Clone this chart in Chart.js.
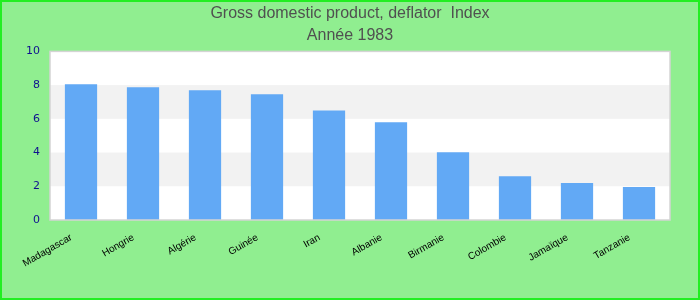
<!DOCTYPE html>
<html>
<head>
<meta charset="utf-8">
<script src="https://cdn.jsdelivr.net/npm/chart.js@4/dist/chart.umd.min.js"></script>
<style>
html,body{margin:0;padding:0;background:#90ee90;}
#wrap{width:700px;height:300px;position:relative;}
</style>
</head>
<body>
<div id="wrap"><canvas id="c" width="700" height="300"></canvas></div>
<script>
const categories = ["Madagascar","Hongrie","Algérie","Guinée","Iran","Albanie","Birmanie","Colombie","Jamaïque","Tanzanie"];
const values = [8.05, 7.87, 7.69, 7.46, 6.5, 5.8, 4.02, 2.6, 2.19, 1.95];
const yTicks = [0, 2, 4, 6, 8, 10];
const titleText = "Gross domestic product, deflator  Index";
const subtitleText = "Année 1983";

const bgPlugin = {
  id: 'bg',
  beforeDraw(chart) {
    const ctx = chart.ctx;
    ctx.save();
    ctx.fillStyle = '#90ee90';
    ctx.fillRect(0, 0, chart.width, chart.height);
    const a = chart.chartArea;
    const y = chart.scales.y;
    ctx.fillStyle = '#ffffff';
    ctx.fillRect(a.left, a.top, a.right - a.left, a.bottom - a.top);
    ctx.fillStyle = '#f2f2f2';
    for (let i = 0; i < yTicks.length - 1; i++) {
      if (i % 2 === 1) {
        const y0 = y.getPixelForValue(yTicks[i]);
        const y1 = y.getPixelForValue(yTicks[i + 1]);
        ctx.fillRect(a.left, y1, a.right - a.left, y0 - y1);
      }
    }
    ctx.restore();
  },
  afterDraw(chart) {
    const ctx = chart.ctx;
    const a = chart.chartArea;
    ctx.save();
    ctx.strokeStyle = '#d4d4d4';
    ctx.lineWidth = 1.5;
    ctx.strokeRect(a.left, a.top, a.right - a.left, a.bottom - a.top);
    ctx.strokeStyle = '#22ee22';
    ctx.lineWidth = 2;
    ctx.strokeRect(1, 1, chart.width - 2, chart.height - 2);
    ctx.restore();
  }
};

new Chart(document.getElementById('c'), {
  type: 'bar',
  data: {
    labels: categories,
    datasets: [{
      data: values,
      backgroundColor: '#62a9f5',
      borderWidth: 0,
      barPercentage: 0.52,
      categoryPercentage: 1.0
    }]
  },
  options: {
    responsive: false,
    animation: false,
    devicePixelRatio: 1,
    layout: { padding: 0 },
    plugins: {
      legend: { display: false },
      tooltip: { enabled: false },
      title: {
        display: true,
        text: titleText,
        color: '#505050',
        font: { family: 'Liberation Sans, Arial, sans-serif', size: 16, weight: 'normal', lineHeight: 1.2 },
        padding: { top: 4, bottom: 3 }
      },
      subtitle: {
        display: true,
        text: subtitleText,
        color: '#505050',
        font: { family: 'Liberation Sans, Arial, sans-serif', size: 16, weight: 'normal', lineHeight: 1.2 },
        padding: { top: 0, bottom: 6 }
      }
    },
    scales: {
      x: {
        grid: { display: false, drawTicks: false },
        border: { display: false },
        ticks: {
          color: '#000000',
          font: { family: 'Liberation Sans, Arial, sans-serif', size: 10 },
          minRotation: 30,
          maxRotation: 30,
          padding: 6,
          autoSkip: false,
          callback(value) { return this.getLabelForValue(value) + '    '; }
        },
        afterFit(scale) { scale.height = 80; }
      },
      y: {
        min: 0,
        max: 10,
        grid: { display: false, drawTicks: false },
        border: { display: false },
        ticks: {
          stepSize: 2,
          color: '#10108f',
          font: { family: 'DejaVu Sans, sans-serif', size: 11 },
          padding: 10
        },
        afterFit(scale) { scale.width = 50; }
      },
      yRight: {
        position: 'right',
        min: 0,
        max: 10,
        grid: { display: false, drawTicks: false },
        border: { display: false },
        ticks: { display: false },
        afterFit(scale) { scale.width = 30; }
      }
    }
  },
  plugins: [bgPlugin]
});
</script>
</body>
</html>
